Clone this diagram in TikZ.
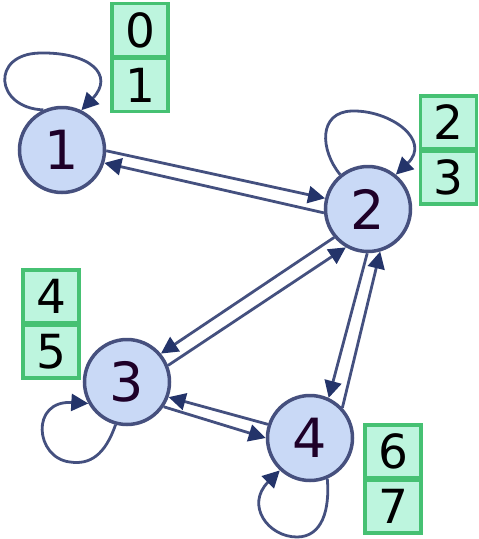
\documentclass[tikz,border=0pt]{standalone}
\usepackage{fontspec}
\setmainfont{DejaVu Sans}
\usepackage{xcolor}
\usepackage{tikz}
\usetikzlibrary{arrows.meta,positioning}
\definecolor{statefill}{HTML}{C9D9F6}
\definecolor{stateline}{HTML}{46507E}
\definecolor{edgeline}{HTML}{44507F}
\definecolor{tipnavy}{HTML}{24346A}
\definecolor{slotfill}{HTML}{BDF5DE}
\definecolor{slotline}{HTML}{46C173}
\definecolor{statetext}{HTML}{1E0028}
\tikzset{
  state/.style={circle,draw=stateline,fill=statefill,line width=3.5pt,minimum size=85pt,inner sep=0pt,text=statetext,font=\fontsize{54}{54}\selectfont},
  slot/.style={rectangle,draw=slotline,fill=slotfill,line width=3.5pt,minimum width=56pt,minimum height=53pt,inner sep=0pt,font=\fontsize{47}{47}\selectfont},
  move/.style={draw=edgeline,line width=2.8pt,-{Triangle[length=17pt,width=17pt,color=tipnavy]}}
}

\begin{document}
\begin{tikzpicture}[x=1pt,y=1pt]
\useasboundingbox (0,0) rectangle (479,-539);
\node[state] (s1) at (62,-150) {1};
\node[state] (s2) at (368,-209) {2};
\node[state] (s3) at (127,-382) {3};
\node[state] (s4) at (310,-438) {4};

\node[slot] (b0) at (140,-30) {0};
\node[slot,below=-1.5pt of b0] (b1) {1};
\node[slot] (b2) at (448.5,-122.5) {2};
\node[slot,below=-1.5pt of b2] (b3) {3};
\node[slot] (b4) at (51,-296.5) {4};
\node[slot,below=-1.5pt of b4] (b5) {5};
\node[slot] (b6) at (393,-451.5) {6};
\node[slot,below=-1.5pt of b6] (b7) {7};

\draw[move] (s1.-1) -- (s2.166);
\draw[move] (s2.185) -- (s1.-17);
\draw[move] (s2.220) -- (s3.40);
\draw[move] (s3.22) -- (s2.240);
\draw[move] (s3.-34) -- (s4.180);
\draw[move] (s4.162) -- (s3.-20);
\draw[move] (s2.269) -- (s4.65);
\draw[move] (s4.43) -- (s2.286);

\draw[move] (s1.115) .. controls (-5,-108) and (-10,-54) .. (40,-53) .. controls (90,-52) and (115,-75) .. (s1.64);
\draw[move] (s2.129) .. controls (320,-150) and (318,-112) .. (352,-111) .. controls (390,-110) and (432,-140) .. (s2.51);
\draw[move] (s3.255) .. controls (105,-455) and (90,-465) .. (70,-462) .. controls (35,-458) and (30,-400) .. (s3.209);
\draw[move] (s4.293) .. controls (330,-510) and (322,-537) .. (297,-537) .. controls (268,-537) and (245,-505) .. (s4.227);
\end{tikzpicture}
\end{document}
